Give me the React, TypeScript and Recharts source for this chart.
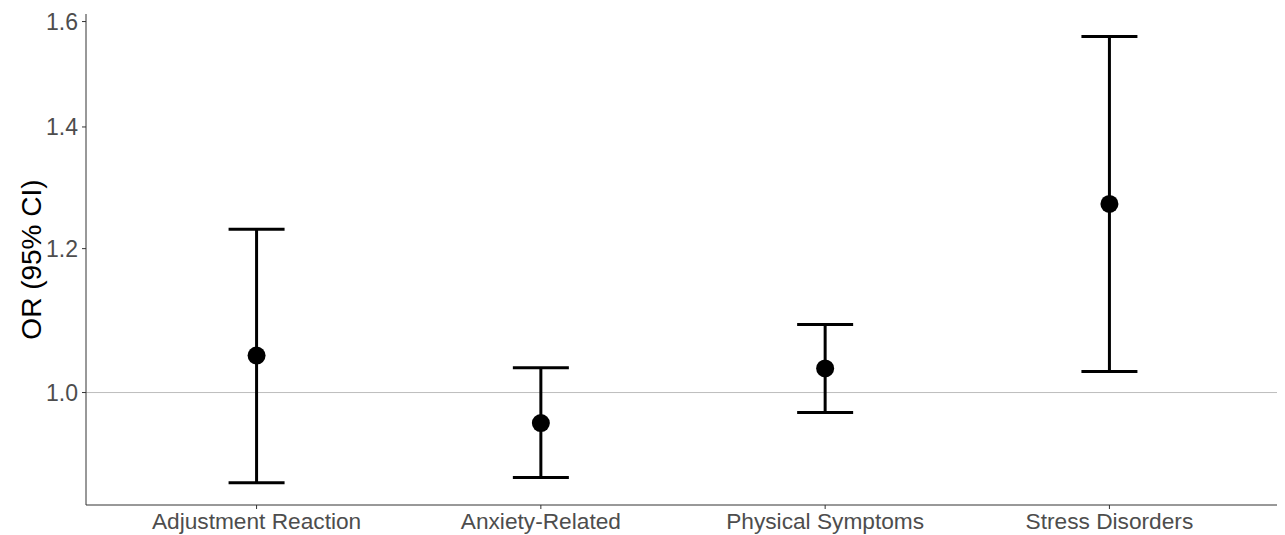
import {
  ScatterChart,
  Scatter,
  XAxis,
  YAxis,
  ErrorBar,
  ReferenceLine,
  Label,
} from 'recharts'

const categories = [
  'Adjustment Reaction',
  'Anxiety-Related',
  'Physical Symptoms',
  'Stress Disorders',
]
const oddsRatio = [1.048, 0.962, 1.031, 1.27]
const ciLower = [0.892, 0.898, 0.975, 1.027]
const ciUpper = [1.23, 1.032, 1.09, 1.57]
const yTicks = [1.0, 1.2, 1.4, 1.6]

const data = categories.map((name, i) => ({
  pos: i + 1,
  name,
  or: oddsRatio[i],
  err: [oddsRatio[i] - ciLower[i], ciUpper[i] - oddsRatio[i]],
}))

const font = '"Liberation Sans", Arial, sans-serif'

const Dot = (props: any) => <circle cx={props.cx} cy={props.cy} r={9} fill="#000" />

export default function App() {
  return (
    <ScatterChart
      width={1277}
      height={527}
      margin={{ top: 6, right: 5, bottom: 0, left: 18 }}
      style={{ fontFamily: font }}
    >
      <XAxis
        type="number"
        dataKey="pos"
        domain={[0.4, 4.6]}
        ticks={[1, 2, 3, 4]}
        tickFormatter={(v: number) => categories[v - 1]}
        height={30}
        tickSize={4}
        tickMargin={4}
        stroke="#333"
        tick={{ fill: '#4d4d4d', fontSize: 22.7 }}
        interval={0}
      />
      <YAxis
        type="number"
        dataKey="or"
        scale="log"
        domain={[0.8672, 1.6154]}
        allowDataOverflow
        ticks={yTicks}
        tickFormatter={(v: number) => v.toFixed(1)}
        width={60}
        tickSize={4}
        tickMargin={4}
        stroke="#333"
        tick={{ fill: '#4d4d4d', fontSize: 23 }}
      >
        <Label
          value="OR (95% CI)"
          angle={-90}
          position="insideLeft"
          style={{ textAnchor: 'middle', fontSize: 28, fill: '#000' }}
        />
      </YAxis>
      <ReferenceLine y={1} stroke="#bdbdbd" strokeWidth={1} />
      <Scatter data={data} shape={Dot} isAnimationActive={false}>
        <ErrorBar dataKey="err" direction="y" width={28} stroke="#000" strokeWidth={3} />
      </Scatter>
    </ScatterChart>
  )
}
